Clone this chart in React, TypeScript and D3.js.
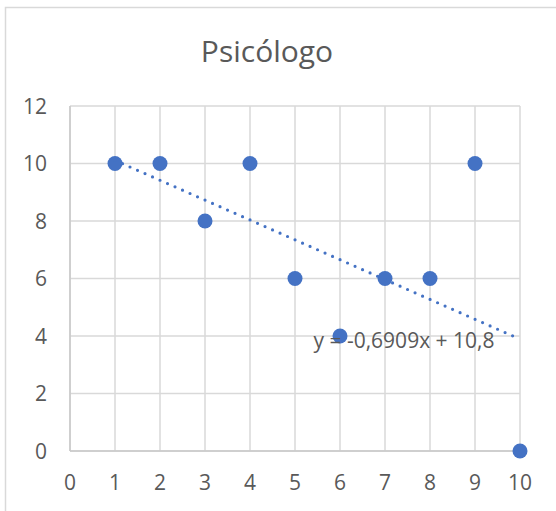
import React from "react";
import * as d3 from "d3";

const xValues = [1, 2, 3, 4, 5, 6, 7, 8, 9, 10];
const yValues = [10, 10, 8, 10, 6, 4, 6, 6, 10, 0];
const xTicks = [0, 1, 2, 3, 4, 5, 6, 7, 8, 9, 10];
const yTicks = [0, 2, 4, 6, 8, 10, 12];
const title = "Psicólogo";
const trendSlope = -0.6909;
const trendIntercept = 10.8;
const trendLabel = "y = -0,6909x + 10,8";

const W = 556;
const H = 511;
const FONT = "'Open Sans', 'Liberation Sans', sans-serif";
const BLUE = "#4472C4";
const GRID = "#d9d9d9";
const TEXT = "#595959";

export default function App() {
  const x = d3.scaleLinear().domain([0, 10]).range([70, 520]);
  const y = d3.scaleLinear().domain([0, 12]).range([451, 106]);
  const trend = d3
    .line<number>()
    .x((d) => x(d))
    .y((d) => y(trendSlope * d + trendIntercept));
  const trendXs = [d3.min(xValues)!, d3.max(xValues)!];

  return (
    <svg
      width={W}
      height={H}
      style={{ position: "absolute", left: 0, top: 0, background: "#fff" }}
    >
      <rect x={5.5} y={7.5} width={W} height={H} fill="#fff" stroke={GRID} strokeWidth={1.5} />
      <text x={267} y={62} textAnchor="middle" fontFamily={FONT} fontSize={30} fill={TEXT}>
        {title}
      </text>
      {xTicks.map((t) => (
        <line key={"gx" + t} x1={x(t)} x2={x(t)} y1={y(12)} y2={y(0)} stroke={GRID} strokeWidth={1.5} />
      ))}
      {yTicks.map((t) => (
        <line key={"gy" + t} x1={x(0)} x2={x(10)} y1={y(t)} y2={y(t)} stroke={GRID} strokeWidth={1.5} />
      ))}
      <line x1={x(0)} x2={x(10)} y1={y(0)} y2={y(0)} stroke="#c8c8c8" strokeWidth={1.5} />
      <line x1={x(0)} x2={x(0)} y1={y(0)} y2={y(12)} stroke="#c8c8c8" strokeWidth={1.5} />
      {yTicks.map((t) => (
        <text key={"ly" + t} x={47} y={y(t)} dy="0.36em" textAnchor="end" fontFamily={FONT} fontSize={21} fill={TEXT}>
          {t}
        </text>
      ))}
      {xTicks.map((t) => (
        <text key={"lx" + t} x={x(t)} y={490} textAnchor="middle" fontFamily={FONT} fontSize={21} fill={TEXT}>
          {t}
        </text>
      ))}
      {xValues.map((v, i) => (
        <circle key={"p" + i} cx={x(v)} cy={y(yValues[i])} r={7.5} fill={BLUE} />
      ))}
      <path
        d={trend(trendXs) || ""}
        fill="none"
        stroke={BLUE}
        strokeWidth={3.2}
        strokeLinecap="round"
        strokeDasharray="0 8.2"
      />
      <text x={404} y={348} textAnchor="middle" fontFamily={FONT} fontSize={21} fill={TEXT}>
        {trendLabel}
      </text>
    </svg>
  );
}
